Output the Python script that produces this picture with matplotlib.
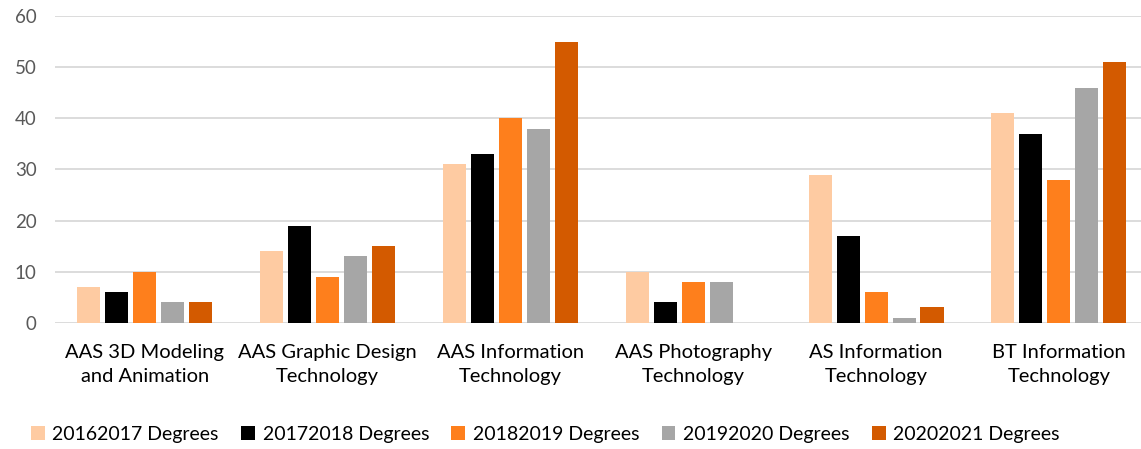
import matplotlib
matplotlib.use('Agg')
import matplotlib.pyplot as plt
import numpy as np

categories = ['AAS 3D Modeling\nand Animation', 'AAS Graphic Design\nTechnology',
              'AAS Information\nTechnology', 'AAS Photography\nTechnology',
              'AS Information\nTechnology', 'BT Information\nTechnology']
series_names = ['20162017 Degrees', '20172018 Degrees', '20182019 Degrees',
                '20192020 Degrees', '20202021 Degrees']
deg_1617 = [7, 14, 31, 10, 29, 41]
deg_1718 = [6, 19, 33, 4, 17, 37]
deg_1819 = [10, 9, 40, 8, 6, 28]
deg_1920 = [4, 13, 38, 8, 1, 46]
deg_2021 = [4, 15, 55, 0, 3, 51]
yticks = [0, 10, 20, 30, 40, 50, 60]

colors = ['#FECBA2', '#000000', '#FE7F1C', '#A6A6A6', '#D35A00']

plt.rcParams['font.family'] = ['Lato', 'DejaVu Sans']

fig = plt.figure(figsize=(11.41, 4.49), dpi=100)
ax = fig.add_axes([0.048, 0.281, 0.952, 0.683])

x = np.arange(len(categories))
step = 0.153
width = 0.126
all_series = [deg_1617, deg_1718, deg_1819, deg_1920, deg_2021]
for j, (vals, name, c) in enumerate(zip(all_series, series_names, colors)):
    ax.bar(x + (j - 2) * step, vals, width, color=c, label=name, zorder=3)

ax.set_ylim(0, 60)
ax.set_xlim(-0.492, 5.449)
ax.set_yticks(yticks)
ax.yaxis.grid(True, color='#D9D9D9', linewidth=1.3, zorder=0)
ax.set_axisbelow(True)
for s in ax.spines.values():
    s.set_visible(False)
ax.tick_params(axis='both', length=0)
ax.tick_params(axis='y', labelsize=13.5, labelcolor='#595959', pad=13)
ax.set_xticks(x)
ax.set_xticklabels(categories, fontsize=14.5, color='#000000', linespacing=1.55)
ax.tick_params(axis='x', pad=15)

fig.legend(loc='center', bbox_to_anchor=(0.478, 0.033), ncol=5, frameon=False,
           fontsize=14, handlelength=0.7, handleheight=0.7,
           handletextpad=0.4, columnspacing=1.15)

fig.savefig('out.png', dpi=100)
